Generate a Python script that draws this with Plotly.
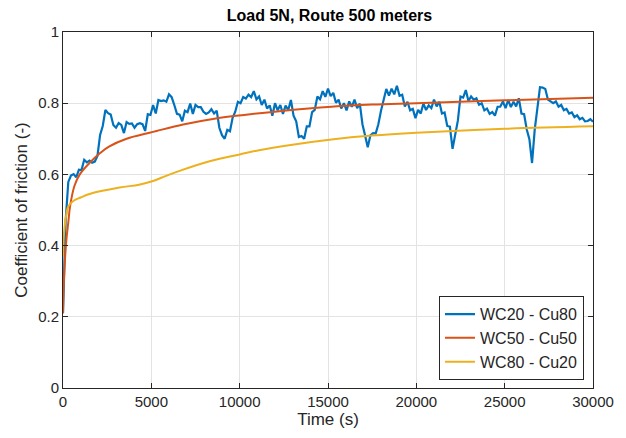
import plotly.graph_objects as go

# ---------------- data ----------------
blue_step = 150
blue_vals = [
    0.210, 0.470, 0.579, 0.597, 0.601, 0.592, 0.613, 0.612, 0.641, 0.634,
    0.639, 0.633, 0.636, 0.652, 0.711, 0.736, 0.781, 0.772, 0.768, 0.739,
    0.731, 0.744, 0.739, 0.716, 0.747, 0.742, 0.743, 0.731, 0.741, 0.744,
    0.741, 0.722, 0.769, 0.767, 0.795, 0.771, 0.809, 0.806, 0.808, 0.804,
    0.825, 0.817, 0.795, 0.770, 0.768, 0.749, 0.779, 0.775, 0.799, 0.770,
    0.795, 0.789, 0.789, 0.776, 0.770, 0.774, 0.783, 0.771, 0.779, 0.731,
    0.710, 0.700, 0.725, 0.721, 0.759, 0.776, 0.804, 0.800, 0.817, 0.813,
    0.824, 0.817, 0.834, 0.811, 0.819, 0.795, 0.810, 0.785, 0.794, 0.765,
    0.800, 0.780, 0.795, 0.770, 0.793, 0.781, 0.809, 0.765, 0.749, 0.705,
    0.708, 0.700, 0.735, 0.735, 0.775, 0.781, 0.819, 0.811, 0.834, 0.818,
    0.841, 0.820, 0.829, 0.801, 0.810, 0.785, 0.800, 0.780, 0.805, 0.790,
    0.810, 0.786, 0.799, 0.741, 0.709, 0.676, 0.710, 0.716, 0.715, 0.741,
    0.779, 0.811, 0.840, 0.821, 0.841, 0.825, 0.849, 0.821, 0.824, 0.791,
    0.804, 0.780, 0.784, 0.758, 0.781, 0.771, 0.799, 0.781, 0.794, 0.786,
    0.810, 0.791, 0.804, 0.771, 0.774, 0.736, 0.734, 0.672, 0.714, 0.751,
    0.819, 0.816, 0.837, 0.806, 0.819, 0.810, 0.814, 0.796, 0.800, 0.780,
    0.785, 0.770, 0.775, 0.765, 0.790, 0.790, 0.805, 0.786, 0.809, 0.789,
    0.804, 0.791, 0.814, 0.771, 0.769, 0.726, 0.699, 0.632, 0.725, 0.785,
    0.845, 0.844, 0.840, 0.810, 0.805, 0.800, 0.805, 0.790, 0.795, 0.780,
    0.784, 0.771, 0.774, 0.761, 0.766, 0.755, 0.759, 0.749, 0.750, 0.755,
    0.748,
]
blue_t = [i * blue_step for i in range(len(blue_vals))]

orange_t = [0, 50, 110, 200, 300, 400, 650, 950, 1500, 2100, 2600, 3600,
            4900, 5300, 6800, 8650, 10250, 12500, 15200, 17500, 20000,
            25000, 30000]
orange_v = [0.21, 0.30, 0.36, 0.42, 0.465, 0.51, 0.568, 0.60, 0.632, 0.66,
            0.678, 0.70, 0.717, 0.722, 0.74, 0.757, 0.767, 0.779, 0.79,
            0.796, 0.80, 0.808, 0.815]

yellow_t = [0, 50, 150, 300, 600, 1000, 1500, 3200, 4300, 5000, 5800, 6600,
            8300, 10000, 11100, 12500, 15200, 17500, 20000, 25000, 30000]
yellow_v = [0.37, 0.43, 0.475, 0.51, 0.526, 0.535, 0.545, 0.563, 0.571,
            0.58, 0.595, 0.61, 0.637, 0.656, 0.668, 0.68, 0.698, 0.709,
            0.717, 0.728, 0.735]

names = ["WC20 - Cu80", "WC50 - Cu50", "WC80 - Cu20"]
colors = ["#0072BD", "#D95319", "#EDB120"]

x_ticks = [0, 5000, 10000, 15000, 20000, 25000, 30000]
y_ticks = [0, 0.2, 0.4, 0.6, 0.8, 1]
y_tick_labels = ["0", "0.2", "0.4", "0.6", "0.8", "1"]

# ---------------- figure ----------------
FONT = "Liberation Sans, Arial, Helvetica, sans-serif"
TXT = "#262626"

fig = go.Figure()
fig.add_trace(go.Scatter(x=blue_t, y=blue_vals, mode="lines", name=names[0],
                         line=dict(color=colors[0], width=2.2)))
fig.add_trace(go.Scatter(x=orange_t, y=orange_v, mode="lines", name=names[1],
                         line=dict(color=colors[1], width=2, shape="spline")))
fig.add_trace(go.Scatter(x=yellow_t, y=yellow_v, mode="lines", name=names[2],
                         line=dict(color=colors[2], width=2, shape="spline")))

axis_common = dict(showline=True, linecolor=TXT, linewidth=1, mirror="ticks",
                   ticks="inside", ticklen=5, tickcolor=TXT,
                   showgrid=True, gridcolor="#e3e3e3", gridwidth=1,
                   zeroline=False, tickfont=dict(family=FONT, size=15, color=TXT))

fig.update_layout(
    width=626, height=438,
    margin=dict(l=63, r=30, t=32, b=48),
    paper_bgcolor="white", plot_bgcolor="white",
    font=dict(family=FONT, color=TXT),
    title=dict(text="<b>Load 5N, Route 500 meters</b>", x=0.5 * (63 + 596) / 626,
               xanchor="center", y=1 - 15 / 438, yanchor="middle",
               font=dict(family=FONT, size=16, color="#000000")),
    xaxis=dict(range=[0, 30000], tickvals=x_ticks,
               ticktext=[str(v) for v in x_ticks],
               title=dict(text="Time (s)", font=dict(family=FONT, size=17, color=TXT),
                          standoff=4),
               **axis_common),
    yaxis=dict(range=[0, 1], tickvals=y_ticks, ticktext=y_tick_labels,
               title=dict(text="Coefficient of friction (-)",
                          font=dict(family=FONT, size=17, color=TXT), standoff=6),
               **axis_common),
    legend=dict(x=0.983, y=0.022, xanchor="right", yanchor="bottom",
                bgcolor="white", bordercolor=TXT, borderwidth=1,
                font=dict(family=FONT, size=16, color=TXT),
                tracegroupgap=0, itemwidth=30),
    showlegend=True,
)

fig.write_html("out.html")
